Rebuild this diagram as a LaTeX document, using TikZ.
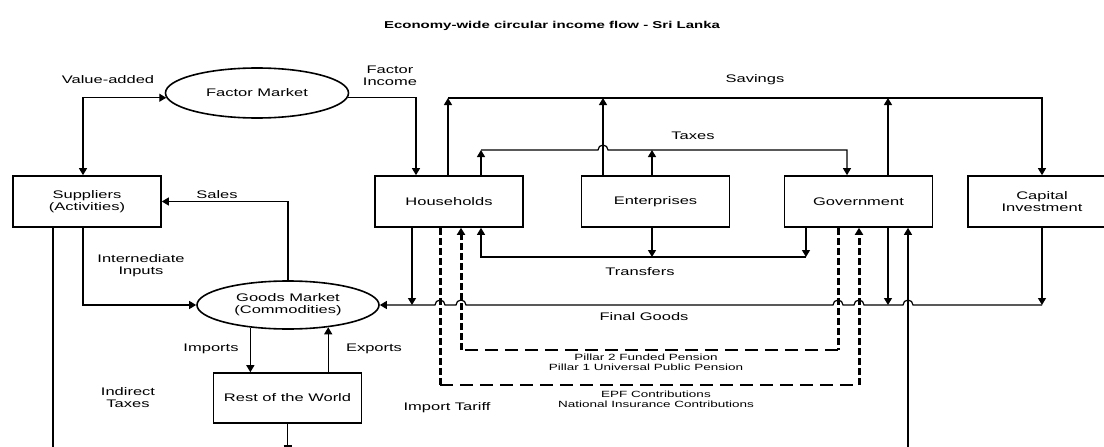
\documentclass[tikz,border=0pt]{standalone}
\usepackage{fontspec}
\setmainfont[FakeStretch=1.5]{Liberation Sans}
\usetikzlibrary{arrows.meta,shapes.geometric}

\tikzset{
	lbl/.style={font=\fontsize{11}{12}\selectfont, align=center},
	note/.style={font=\fontsize{9}{10}\selectfont, align=center},
	sector/.style={draw, line width=1.6pt, minimum width=148pt, minimum height=51pt, inner sep=0pt, lbl},
	market/.style={draw, ellipse, line width=1.6pt, minimum width=183pt, minimum height=50pt, inner sep=0pt, lbl},
	flow/.style={line width=1.2pt, -{Triangle[length=7pt,width=8pt]}},
	twoway/.style={line width=1.2pt, {Triangle[length=7pt,width=8pt]}-{Triangle[length=7pt,width=8pt]}},
	link/.style={line width=1.2pt},
	pcol/.style={line width=3pt, dash pattern=on 7pt off 3pt},
	prow/.style={line width=2pt, dash pattern=on 13pt off 7pt},
}

\begin{document}
\begin{tikzpicture}[x=1pt,y=-1pt]
	\useasboundingbox (0,0) rectangle (1104,447);
	\node[font=\fontsize{10}{12}\selectfont\bfseries] (title) at (552,26) {Economy-wide circular income flow - Sri Lanka};

	\node[market] (fmkt) at (257,93) {Factor Market};
	\node[market, minimum width=182pt, minimum height=48pt] (gmkt) at (288,305) {Goods Market\\(Commodities)};
	\node[sector] (supp) at (87,201.5) {Suppliers\\(Activities)};
	\node[sector] (hh) at (449,201.5) {Households};
	\node[sector] (ent) at (655.5,201.5) {Enterprises};
	\node[sector] (gov) at (858.5,201.5) {Government};
	\node[sector] (cap) at (1042,201.5) {Capital\\Investment};
	\node[sector, minimum height=50pt] (row) at (287.5,398) {Rest of the World};

	% where the flows leave and meet
	\coordinate (va) at (83,98);
	\coordinate (fi) at (416,98);
	\coordinate (hs) at (448,98);
	\coordinate (es) at (603,98);
	\coordinate (gs) at (888,98);
	\coordinate (cs) at (1042,98);
	\coordinate (ht) at (481,150);
	\coordinate (et) at (652,150);
	\coordinate (gt) at (847,150);
	\coordinate (htr) at (481,257);
	\coordinate (etr) at (652,257);
	\coordinate (gtr) at (806,257);
	\coordinate (hfg) at (412,305);
	\coordinate (gfg) at (888,305);
	\coordinate (ho) at (440,385);
	\coordinate (go) at (859,385);
	\coordinate (hi) at (461,350);
	\coordinate (gi) at (838,350);
	\coordinate (sb) at (53,447);
	\coordinate (rb) at (287.5,446);
	\coordinate (ib) at (908,447);

	\draw[twoway] (supp.north -| va) |- (fmkt.183);
	\draw[flow] (fmkt.357) -| (hh.north -| fi);
	\draw[flow] (gmkt.north) |- (supp.east);
	\draw[flow] (supp.south -| va) |- (gmkt.west);
	\draw[flow] (gmkt.211) -- (gmkt.211 |- row.north);
	\draw[flow] (row.north -| gmkt.331) -- (gmkt.331);

	\draw[flow] (hh.north -| hs) -- (hs);
	\draw[flow] (ent.north -| es) -- (es);
	\draw[flow] (gov.north -| gs) -- (gs);
	\draw[flow] (hs) -- (cs) -- (cap.north);

	\draw[flow] (hh.north -| ht) -- (ht);
	\draw[flow] (ent.north -| et) -- (et);
	\draw[flow] (ht) -- (598,150) arc(180:360:5) -- (gt) -- (gov.north -| gt);

	\draw[flow] (gov.south -| gtr) -- (gtr);
	\draw[flow] (ent.south -| etr) -- (etr);
	\draw[flow] (gtr) -- (htr) -- (hh.south -| htr);

	\draw[flow] (hh.south -| hfg) -- (hfg);
	\draw[flow] (gov.south -| gfg) -- (gfg);
	\draw[flow] (cap.south) -- (cap.south |- hfg);
	\draw[flow] (cap.south |- hfg) -- (913,305) arc(0:-180:5) -- (864,305) arc(0:-180:5)
		-- (843,305) arc(0:-180:5) -- (466,305) arc(0:-180:5) -- (445,305) arc(0:-180:5) -- (gmkt.east);

	\draw[pcol] (hh.south -| ho) -- (ho);
	\draw[prow] (ho) -- (go);
	\draw[pcol, -{Triangle[length=7pt,width=8pt]}] (go) -- (gov.south -| go);
	\draw[pcol] (gov.south -| gi) -- (gi);
	\draw[prow] (gi) -- (hi);
	\draw[pcol, -{Triangle[length=7pt,width=8pt]}] (hi) -- (hh.south -| hi);

	\draw[link] (supp.south -| sb) -- (sb);
	\draw[link] (row.south) -- (rb);
	\draw[link] ([xshift=-4pt]rb) -- ([xshift=4pt]rb);
	\draw[flow] (ib) -- (gov.south -| ib);

	\node[lbl] (lva) at (108,80) {Value-added};
	\node[lbl] (lfi) at (390,76) {Factor\\Income};
	\node[lbl] (lsav) at (755,80) {Savings};
	\node[lbl] (ltax) at (693,136) {Taxes};
	\node[lbl] (lsal) at (217,195) {Sales};
	\node[lbl] (linp) at (141,266) {Internediate\\Inputs};
	\node[lbl] (ltr) at (640,272) {Transfers};
	\node[lbl] (lfg) at (644,317) {Final Goods};
	\node[lbl] (limp) at (211,349) {Imports};
	\node[lbl] (lexp) at (374,349) {Exports};
	\node[lbl] (lind) at (128,398) {Indirect\\Taxes};
	\node[lbl] (ltar) at (447,408) {Import Tariff};
	\node[note] (lpil) at (646,362) {Pillar 2 Funded Pension\\Pillar 1 Universal Public Pension};
	\node[note] (lepf) at (656,399) {EPF Contributions\\National Insurance Contributions};
\end{tikzpicture}
\end{document}
